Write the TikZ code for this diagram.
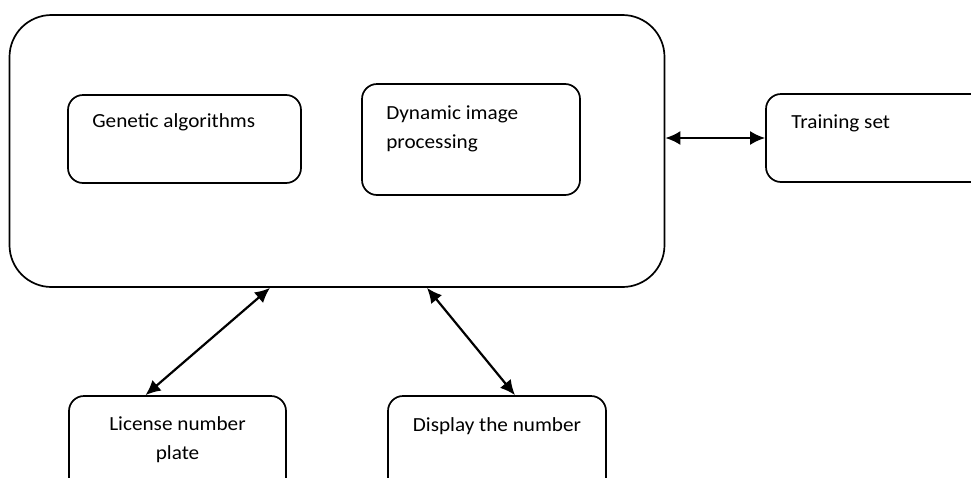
\documentclass[tikz,border=0pt]{standalone}
\usepackage{fontspec}
\setmainfont{Carlito}[FakeStretch=1.06]
\usetikzlibrary{arrows.meta}
\usetikzlibrary{positioning}
\tikzset{box/.style = {draw, line width=1.7pt, rounded corners=15pt,
                       inner sep=0pt, minimum width=#1},
         txt/.style = {font=\fontsize{20}{29}\selectfont, inner sep=0pt, align=left},
         dbl/.style = {line width=2.2pt, {Latex[length=15pt,width=14pt]}-{Latex[length=15pt,width=14pt]}}}

\begin{document}
\begin{tikzpicture}[x=1pt, y=-1pt]
  \useasboundingbox (0,0) rectangle (971,477);
  \clip (0,0) rectangle (971,477);

  \node[box=655pt, minimum height=272pt, rounded corners=42pt] (core) at (337,151) {};
  \node[box=233pt, minimum height=88pt] (gen) at (184.5,139) {};
  \node[box=218pt, minimum height=111pt] (dyn) at (471,139.5) {};
  \node[box=260pt, minimum height=88pt] (train) at (896,138) {};
  \node[box=217pt, minimum height=110pt] (lic) at (177.5,451) {};
  \node[box=218pt, minimum height=110pt] (disp) at (497,451) {};

  \node[txt, anchor=west] (gentxt) at ([xshift=25pt, yshift=-28pt]gen.north west) {Genetic algorithms};
  \node[txt, anchor=north west] (dyntxt) at ([xshift=25pt, yshift=-22pt]dyn.north west) {Dynamic image\\processing};
  \node[txt, anchor=west] (traintxt) at ([xshift=26pt, yshift=-30pt]train.north west) {Training set};
  \node[txt, align=center] (lictxt) at ([yshift=-45pt]lic.north) {License number\\plate};
  \node[txt] (disptxt) at ([yshift=-31pt]disp.north) {Display the number};

  \draw[dbl] (core.east |- train.west) -- (train.west);
  \draw[dbl] ([xshift=-32pt]lic.north) -- ([xshift=-67pt]core.south);
  \draw[dbl] ([xshift=18pt]disp.north) -- ([xshift=90pt]core.south);
\end{tikzpicture}
\end{document}
